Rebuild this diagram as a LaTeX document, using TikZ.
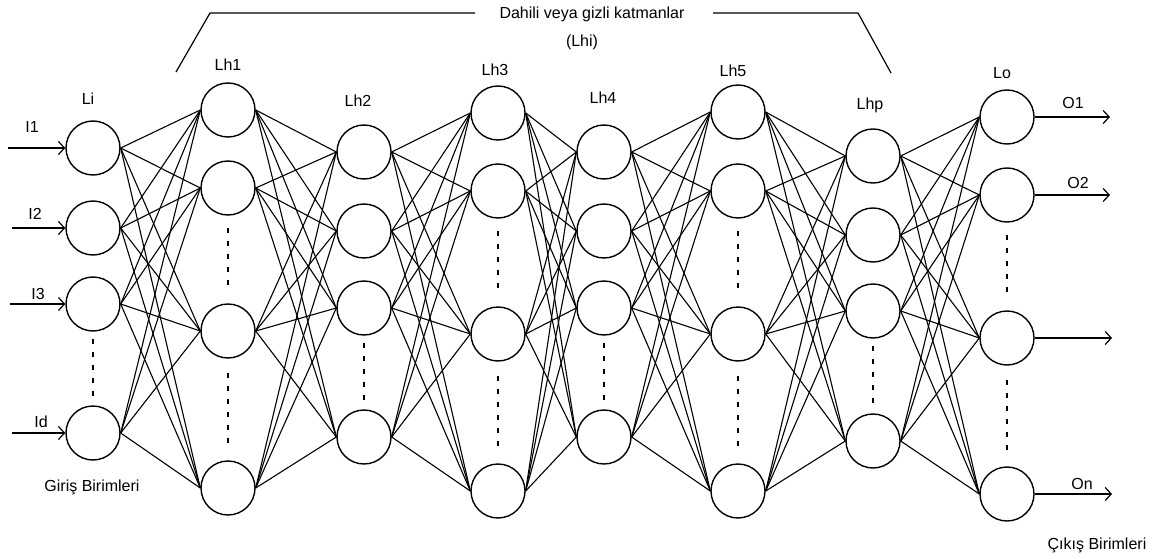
\documentclass[tikz,border=0pt]{standalone}
\usepackage{fontspec}
\setmainfont{Liberation Sans}
\usetikzlibrary{arrows.meta}
\begin{document}
\begin{tikzpicture}[x=1pt,y=-1pt,
  neuron/.style={circle,draw,line width=1.4pt,minimum size=54pt,inner sep=0pt},
  conn/.style={line width=1.1pt},
  lbl/.style={font=\fontsize{16}{19}\selectfont,inner sep=0pt,anchor=base},
  vdots/.style={line width=2.4pt,dash pattern=on 5pt off 8pt},
  iolink/.style={line width=1.2pt,-{Straight Barb[length=6pt,width=13pt,line width=1.2pt]}},
  brk/.style={line width=1.2pt}]
\useasboundingbox (0,0) rectangle (1162,559);

% neurons
\foreach \n/\x/\ya/\yb/\yc/\yd in {
  1/93/148/228/304/433,
  2/228/110/188/331/488,
  3/364/152/231/308/437,
  4/498/113/191/334/491,
  5/604/152/231/308/437,
  6/738/112/191/334/491,
  7/873/156/235/311/441,
  8/1007/117/195/338/494}{
  \node[neuron] (n\n-1) at (\x,\ya) {};
  \node[neuron] (n\n-2) at (\x,\yb) {};
  \node[neuron] (n\n-3) at (\x,\yc) {};
  \node[neuron] (n\n-4) at (\x,\yd) {};
}

% full connections
\foreach \a/\b in {1/2,2/3,3/4,4/5,5/6,6/7,7/8}{
  \foreach \i in {1,...,4}{
    \foreach \j in {1,...,4}{
      \draw[conn] (n\a-\i.east) -- (n\b-\j.west);
    }
  }
}

% vertical dots
\foreach \n in {1,3,5,7}{
  \draw[vdots] ([yshift=-7pt]n\n-3.south) -- ([yshift=9pt]n\n-4.north);
}
\foreach \n in {2,4,6,8}{
  \draw[vdots] ([yshift=-12pt]n\n-2.south) -- ([yshift=12pt]n\n-3.north);
  \draw[vdots] ([yshift=-14pt]n\n-3.south) -- ([yshift=16pt]n\n-4.north);
}

% layer labels
\node[lbl] (tLi)  at (88,105)  {Li};
\node[lbl] (tLh1) at (228,71)  {Lh1};
\node[lbl] (tLh2) at (358,107) {Lh2};
\node[lbl] (tLh3) at (495,76)  {Lh3};
\node[lbl] (tLh4) at (603,104) {Lh4};
\node[lbl] (tLh5) at (733,77)  {Lh5};
\node[lbl] (tLhp) at (870,110) {Lhp};
\node[lbl] (tLo)  at (1002,79) {Lo};

% inputs
\coordinate (in1) at (8,148);
\coordinate (in2) at (12,228);
\coordinate (in3) at (10,304);
\coordinate (in4) at (12,433);
\foreach \i in {1,...,4}{ \draw[iolink] (in\i) -- (n1-\i.west); }
\node[lbl] (tI1) at (32,133) {I1};
\node[lbl] (tI2) at (35,219) {I2};
\node[lbl] (tI3) at (38,299) {I3};
\node[lbl] (tId) at (41,427) {Id};

% outputs
\coordinate (out1) at (1110,117);
\coordinate (out2) at (1110,195);
\coordinate (out3) at (1112,338);
\coordinate (out4) at (1112,494);
\foreach \i in {1,...,4}{ \draw[iolink] (n8-\i.east) -- (out\i); }
\node[lbl] (tO1) at (1073,109) {O1};
\node[lbl] (tO2) at (1078,189) {O2};
\node[lbl] (tOn) at (1082,489) {On};

% bracket for hidden layers
\node[lbl] (thid) at (592,19) {Dahili veya gizli katmanlar};
\node[lbl] (tLhi) at (582,47) {(Lhi)};
\coordinate (b1) at (176,72);
\coordinate (b2) at (210,13);
\coordinate (b3) at (475,13);
\coordinate (b4) at (713,13);
\coordinate (b5) at (858,13);
\coordinate (b6) at (891,73);
\draw[brk] (b1) -- (b2) -- (b3);
\draw[brk] (b4) -- (b5) -- (b6);

% unit captions
\node[lbl] (tgir) at (92,491) {Giriş Birimleri};
\node[lbl] (tcik) at (1097,549) {Çıkış Birimleri};
\end{tikzpicture}
\end{document}
